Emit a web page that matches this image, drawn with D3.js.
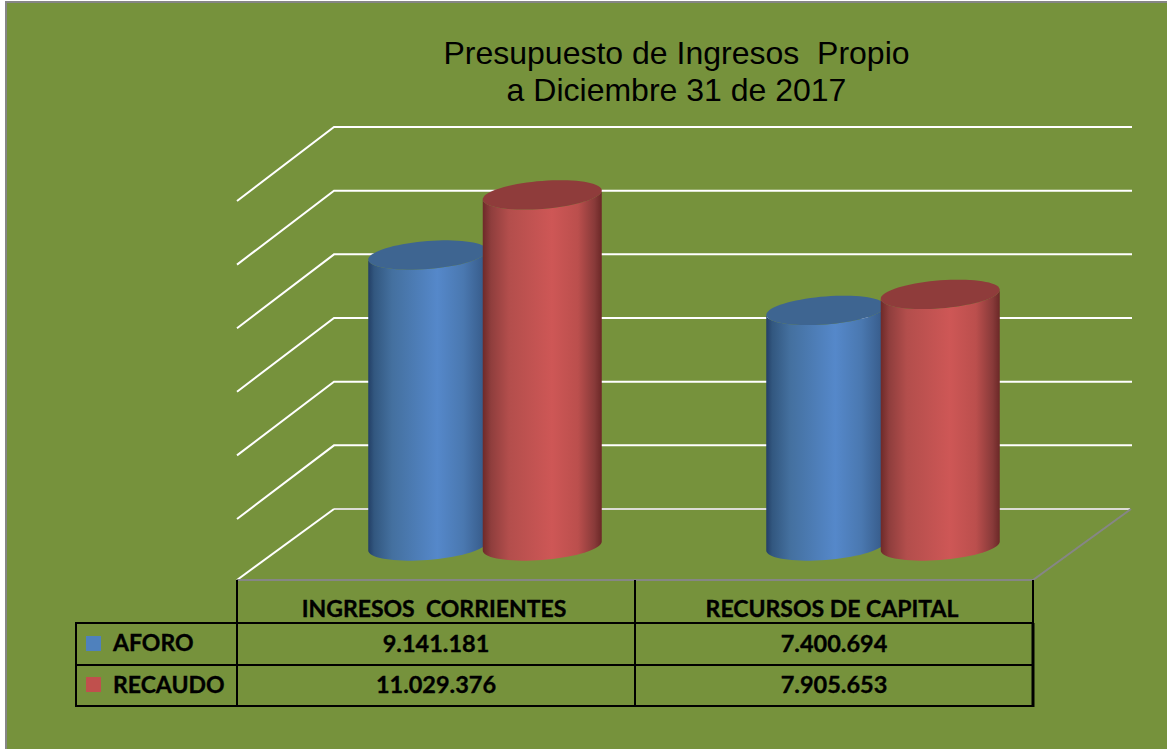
<!DOCTYPE html>
<html><head><meta charset="utf-8">
<script src="https://cdn.jsdelivr.net/npm/d3@7/dist/d3.min.js"></script>
<style>html,body{margin:0;padding:0;background:#fff}svg{display:block}text{white-space:pre}</style>
</head><body><svg id="c" width="1167" height="749"></svg>
<script>
const titleLines = ["Presupuesto de Ingresos  Propio", "a Diciembre 31 de 2017"];
const categories = ["INGRESOS  CORRIENTES", "RECURSOS DE CAPITAL"];
const seriesNames = ["AFORO", "RECAUDO"];
const aforo = [9141181, 7400694];
const recaudo = [11029376, 7905653];
const aforoLabels = ["9.141.181", "7.400.694"];
const recaudoLabels = ["11.029.376", "7.905.653"];
const gridTicks = [2000000, 4000000, 6000000, 8000000, 10000000, 12000000];

const svg = d3.select("#c");
const W = 1167, H = 749;
const bg = "#76923c";
const tableFont = "Lato, 'Open Sans', sans-serif";

svg.append("rect").attr("x", 5).attr("y", 1).attr("width", W - 5).attr("height", H - 1).attr("fill", bg);
svg.append("path").attr("d", "M6,749V2H1167").attr("fill", "none").attr("stroke", "#868686").attr("stroke-width", 2);

// geometry
const frontLeft = 237, frontRight = 1033, depthX = 97, floorFrontY = 580;
const yBack = d3.scaleLinear().domain([0, 12000000]).range([509, 127]);
const yFront = d3.scaleLinear().domain([0, 12000000]).range([582.6, 201]);
const yBar = d3.scaleLinear().domain([0, 12000000]).range([546, 164]);
const xCat = d3.scaleBand().domain(categories).range([frontLeft, frontRight]);
const xSer = d3.scaleBand().domain(seriesNames).range([-114.5, 114.5]);

// gradients
const defs = svg.append("defs");
function grad(id, stops) {
  const g = defs.append("linearGradient").attr("id", id).attr("x1", 0).attr("x2", 1).attr("y1", 0).attr("y2", 0);
  stops.forEach(s => g.append("stop").attr("offset", s[0]).attr("stop-color", s[1]));
}
grad("gBlue", [[0, "#233f66"], [0.05, "#32577f"], [0.2, "#44709f"], [0.58, "#5588ca"], [0.8, "#4a78b0"], [0.95, "#3a6090"], [1, "#2f527e"]]);
grad("gRed", [[0, "#6e2a29"], [0.07, "#8f3e3d"], [0.22, "#b34e4c"], [0.58, "#ce5756"], [0.8, "#bb4f4d"], [0.94, "#883a39"], [1, "#6b2827"]]);

// walls
const grid = svg.append("g");
grid.selectAll("path.g").data(gridTicks).join("path").attr("class", "g")
  .attr("fill", "none").attr("stroke", "#fff").attr("stroke-width", 2)
  .attr("d", d => `M${frontLeft},${yFront(d)}L${frontLeft + depthX},${yBack(d)}H${W - 35}`);
grid.append("path").attr("fill", "none").attr("stroke", "#dcdcd4").attr("stroke-width", 2)
  .attr("d", `M${frontLeft + depthX},${yBack(0)}H${frontRight + depthX}`);
grid.append("path").attr("fill", "none").attr("stroke", "#fff").attr("stroke-width", 2)
  .attr("d", `M${frontLeft},${floorFrontY}L${frontLeft + depthX},${yBack(0)}`);
grid.append("path").attr("fill", "none").attr("stroke", "#868686").attr("stroke-width", 2)
  .attr("d", `M${frontLeft},${floorFrontY}H${frontRight}L${frontRight + depthX + 1},${yBack(0)}`);

// cylinders
const rx = 59.5, ry = 14, k = 4.5;
const ell = d3.range(0, 72).map(i => i * 5 * Math.PI / 180);
function pt(cx, cy, t) { return [cx + rx * Math.cos(t), cy + ry * Math.sin(t) - k * Math.cos(t)]; }
const line = d3.line();
function drawCyl(g, cx, top, bottom, body, cap) {
  const front = d3.range(0, 37).map(i => pt(cx, bottom, i * 5 * Math.PI / 180));
  const back = d3.range(36, -1, -1).map(i => pt(cx, top, i * 5 * Math.PI / 180));
  g.append("path").attr("d", line(front.concat(back)) + "Z").attr("fill", `url(#${body})`);
  g.append("path").attr("d", line(ell.map(t => pt(cx, top, t))) + "Z").attr("fill", cap);
}
const bars = svg.append("g");
categories.forEach((c, i) => {
  const cx0 = xCat(c) + xCat.bandwidth() / 2 + depthX / 2 + 0.5;
  drawCyl(bars, cx0 + xSer("AFORO") + xSer.bandwidth() / 2, yBar(aforo[i]), yBar(0), "gBlue", "#3e6591");
  drawCyl(bars, cx0 + xSer("RECAUDO") + xSer.bandwidth() / 2, yBar(recaudo[i]), yBar(0), "gRed", "#8f3c3b");
});

// title
svg.append("g").selectAll("text").data(titleLines).join("text")
  .attr("x", 676.5).attr("y", (d, i) => 64 + i * 37)
  .attr("text-anchor", "middle").attr("font-family", "'Liberation Sans', Arial, sans-serif")
  .attr("font-size", 32).attr("fill", "#000").text(d => d);

// data table
const rowY = [580, 623, 665, 706];
const tableLeft = 76;
const tbl = svg.append("g").attr("stroke", "#000").attr("stroke-width", 2);
rowY.slice(1).forEach(y => tbl.append("line").attr("x1", tableLeft - 1).attr("x2", frontRight + 1).attr("y1", y).attr("y2", y));
tbl.append("line").attr("x1", tableLeft).attr("x2", tableLeft).attr("y1", rowY[1]).attr("y2", rowY[3]);
[frontLeft, xCat(categories[1]), frontRight].forEach(x =>
  tbl.append("line").attr("x1", x).attr("x2", x).attr("y1", rowY[0]).attr("y2", rowY[3] + 1));
tbl.append("line").attr("x1", frontRight).attr("x2", frontRight).attr("y1", rowY[1]).attr("y2", rowY[3] + 1).attr("stroke-width", 3);

const txt = svg.append("g").attr("font-family", tableFont).attr("font-weight", 700).attr("font-size", 23)
  .attr("fill", "#000").attr("stroke", "#000").attr("stroke-width", 0.35);
categories.forEach((c, i) => {
  const x = xCat(c) + xCat.bandwidth() / 2;
  txt.append("text").attr("x", x - 2).attr("y", 616.5).attr("text-anchor", "middle").text(c);
  txt.append("text").attr("x", x).attr("y", 651.5).attr("text-anchor", "middle").attr("font-size", 23.5).text(aforoLabels[i]);
  txt.append("text").attr("x", x).attr("y", 692.5).attr("text-anchor", "middle").attr("font-size", 23.5).text(recaudoLabels[i]);
});
const legendColors = ["#4f81bd", "#c0504d"];
seriesNames.forEach((s, i) => {
  svg.append("rect").attr("x", 86).attr("y", 636 + i * 41).attr("width", 15).attr("height", 15).attr("fill", legendColors[i]);
  txt.append("text").attr("x", 113).attr("y", 651 + i * 41.5).text(s);
});
</script></body></html>
